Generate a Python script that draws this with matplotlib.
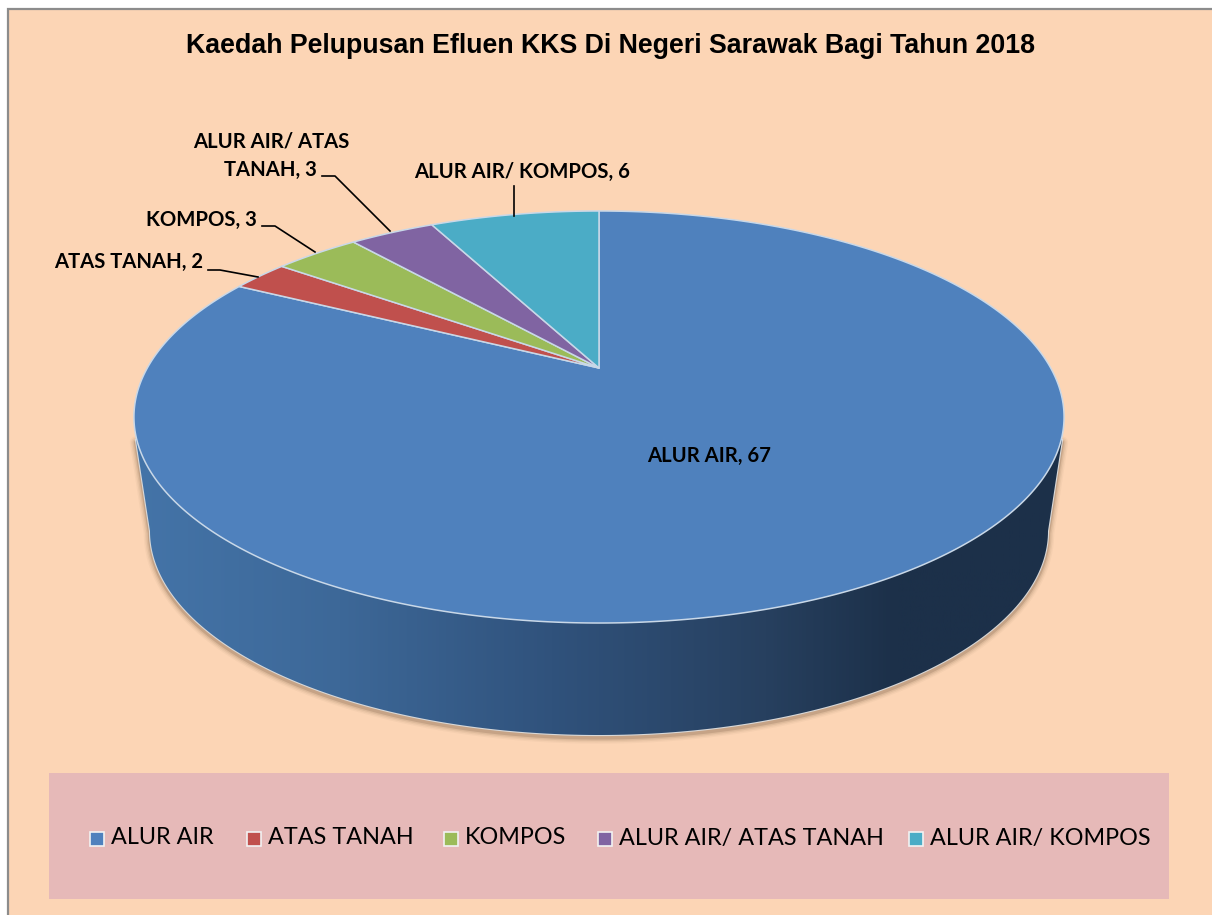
import matplotlib
matplotlib.use('Agg')

import matplotlib.pyplot as plt
import numpy as np
from matplotlib.colors import LinearSegmentedColormap
from matplotlib.patches import PathPatch, Polygon, Rectangle
from matplotlib.path import Path

title = "Kaedah Pelupusan Efluen KKS Di Negeri Sarawak Bagi Tahun 2018"
categories = ["ALUR AIR", "ATAS TANAH", "KOMPOS", "ALUR AIR/ ATAS TANAH", "ALUR AIR/ KOMPOS"]
values = [67, 2, 3, 3, 6]
colors = ["#4F81BD", "#C0504D", "#9BBB59", "#8064A2", "#4BACC6"]

BG = "#FCD5B5"
LABEL_FONT = "Lato"

# perspective of the top face, worked out from the ellipse in the picture
CX, CY = 599, 368
S, P, E = 451.7, -106.8, 0.2379


def project(theta):
    u, v = np.sin(theta), np.cos(theta)
    d = 1 + E * v
    return CX + S * u / d, (CY + P * v) / d


fig = plt.figure(figsize=(12.12, 9.15), dpi=100, facecolor="white")
ax = fig.add_axes([0, 0, 1, 1])

ax.add_patch(Rectangle((7.5, 8.5), 1300, 1000, fc=BG, ec="#8c8c8c", lw=1.6, zorder=0))

# side of the pie
bx, by, ba, bb = 599, 531, 449, 204
t = np.linspace(0, np.pi, 200)
low_x = bx + ba * np.cos(t)
low_y = by + bb * np.sin(t)
side_x = np.r_[1062, low_x, 136]
side_y = np.r_[440, low_y, 440]
side_xy = np.c_[side_x, side_y]

for lw, a in [(9, 0.03), (7, 0.05), (5, 0.08), (3, 0.14)]:
    ax.plot(side_x, side_y + 2.5, color="#3a2410", lw=lw, alpha=a, zorder=1, solid_capstyle="round")
ax.plot(side_x, side_y, color="#d8d8d8", lw=1.6, zorder=2)

side_cmap = LinearSegmentedColormap.from_list("side", [
    (0.0, "#4474A8"), (0.22, "#3D6898"), (0.45, "#30527C"),
    (0.68, "#27405F"), (0.82, "#1C3049"), (1.0, "#1C3049")])
grad = np.linspace(0, 1, 512).reshape(1, -1)
im = ax.imshow(grad, cmap=side_cmap, extent=[134, 1064, 745, 400], aspect="auto", zorder=3)
side_patch = Polygon(side_xy, closed=True, transform=ax.transData, fc="none", ec="none")
ax.add_patch(side_patch)
im.set_clip_path(side_patch)

# top face, clockwise from twelve o'clock
total = sum(values)
start = 0.0
for val, col in zip(values, colors):
    end = start + 2 * np.pi * val / total
    th = np.linspace(start, end, max(int(val * 12), 30))
    x, y = project(th)
    verts = np.r_[[[CX, CY]], np.c_[x, y]]
    ax.add_patch(Polygon(verts, closed=True, fc=col, ec="#C9D8E8", lw=1.1, joinstyle="round", zorder=4))
    start = end

# labels
lab = dict(fontfamily=LABEL_FONT, fontweight="bold", fontsize=14.6, color="black", zorder=6)
ax.text(709, 456, f"{categories[0]}, {values[0]}", ha="center", va="center", **lab)
ax.text(203, 262, f"{categories[1]}, {values[1]}", ha="right", va="center", **lab)
ax.text(257, 220, f"{categories[2]}, {values[2]}", ha="right", va="center", **lab)
ax.text(271, 141, "ALUR AIR/ ATAS", ha="center", va="center", **lab)
ax.text(317, 170, f"TANAH, {values[3]}", ha="right", va="center", **lab)
ax.text(522, 172, f"{categories[4]}, {values[4]}", ha="center", va="center", **lab)

leaders = [
    ([208, 220, 258], [270, 270, 277]),
    ([262, 275, 315], [226, 226, 252]),
    ([322, 335, 390], [176, 176, 231]),
    ([514, 514], [186, 216]),
]
for lx, ly in leaders:
    ax.plot(lx, ly, color="black", lw=1.2, zorder=5)

ax.text(610, 46, title, ha="center", va="center", fontfamily="Liberation Sans",
        fontweight="bold", fontsize=19.3, color="black", zorder=6)

# legend
ax.add_patch(Rectangle((49, 773), 1120, 126, fc="#E6B9B8", ec="none", zorder=1))
marker_x = [90, 247, 444, 598, 909]
for mx, name, col in zip(marker_x, categories, colors):
    ax.add_patch(Rectangle((mx, 832), 14, 14, fc=col, ec="#F2F2F2", lw=1.2, zorder=5))
    ax.text(mx + 21, 838, name, ha="left", va="center", fontfamily=LABEL_FONT,
            fontsize=16.8, color="black", zorder=6)

ax.set_xlim(0, 1212)
ax.set_ylim(915, 0)
ax.axis("off")

fig.savefig("out.png", dpi=100)
plt.close("all")
